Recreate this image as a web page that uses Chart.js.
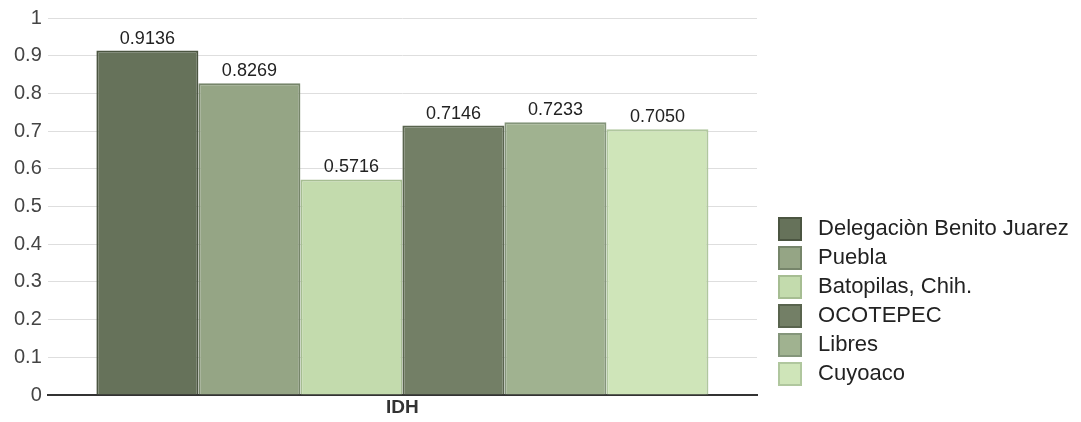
<!DOCTYPE html>
<html>
<head>
<meta charset="utf-8">
<script src="https://cdn.jsdelivr.net/npm/chart.js@4/dist/chart.umd.min.js"></script>
<style>
  html, body { margin: 0; padding: 0; background: #fff; }
  #wrap { width: 1081px; height: 422px; }
</style>
</head>
<body>
<div id="wrap"><canvas id="idhChart"></canvas></div>
<script>
// Data
const categories = ['IDH'];
const places = ['Delegaciòn Benito Juarez', 'Puebla', 'Batopilas, Chih.', 'OCOTEPEC', 'Libres', 'Cuyoaco'];
const idhValues = [0.9136, 0.8269, 0.5716, 0.7146, 0.7233, 0.7050];
const yTicks = [0, 0.1, 0.2, 0.3, 0.4, 0.5, 0.6, 0.7, 0.8, 0.9, 1];

const fills = ['#66725a', '#95a585', '#c3dbad', '#737f66', '#a0b290', '#cfe5b9'];
const borders = ['#4b5541', '#76856a', '#a6bd92', '#59644e', '#84957a', '#b0c79e'];

Chart.defaults.font.family = '"Liberation Sans", Arial, sans-serif';
Chart.defaults.font.size = 20;
Chart.defaults.color = '#333';

// value labels above bars
const valueLabels = {
    id: 'valueLabels',
    afterDatasetsDraw(chart) {
        const ctx = chart.ctx;
        ctx.save();
        ctx.font = '18px "Liberation Sans", Arial, sans-serif';
        ctx.fillStyle = '#222';
        ctx.textAlign = 'center';
        ctx.textBaseline = 'bottom';
        chart.data.datasets.forEach((ds, i) => {
            const bar = chart.getDatasetMeta(i).data[0];
            ctx.fillText(ds.data[0].toFixed(4), bar.x, bar.y - 3);
        });
        ctx.restore();
    }
};

// legend: wider than the layout allows by default, lifted and nudged right
const LEGEND_W = 324;
const legendShift = {
    id: 'legendShift',
    beforeLayout(chart) {
        const lg = chart.legend;
        if (lg && !lg._wideFit) {
            const fit = lg.fit.bind(lg);
            lg.fit = function () { fit(); this.width = LEGEND_W; };
            lg._wideFit = true;
        }
    },
    afterLayout(chart) {
        const lg = chart.legend;
        lg.bottom -= 28;
        lg.left += 15;
        lg.right = chart.width;
    }
};

new Chart(document.getElementById('idhChart').getContext('2d'), {
    type: 'bar',
    data: {
        labels: categories,
        datasets: places.map((p, i) => ({
            label: p,
            data: [idhValues[i]],
            backgroundColor: fills[i],
            borderColor: borders[i],
            borderWidth: 2,
            borderSkipped: 'bottom',
            categoryPercentage: 0.863,
            barPercentage: 1
        }))
    },
    options: {
        responsive: true,
        maintainAspectRatio: false,
        animation: false,
        layout: { padding: { top: 8, left: 8, right: 0, bottom: 2 } },
        scales: {
            x: {
                grid: { display: false, drawTicks: false },
                border: { display: true, color: '#333', width: 2 },
                ticks: { font: { weight: 'bold', size: 19, lineHeight: 1 }, color: '#333', padding: 3 }
            },
            y: {
                min: 0,
                max: 1,
                afterBuildTicks(axis) { axis.ticks = yTicks.map(v => ({ value: v })); },
                grid: { color: '#dedede', lineWidth: 1, drawTicks: false },
                border: { display: false },
                ticks: {
                    color: '#444',
                    padding: 6,
                    callback: v => String(Math.round(v * 10) / 10)
                }
            }
        },
        plugins: {
            legend: {
                position: 'right',
                align: 'end',
                labels: {
                    boxWidth: 22,
                    boxHeight: 22,
                    padding: 7,
                    color: '#222',
                    font: { size: 22 },
                    generateLabels(chart) {
                        return Chart.defaults.plugins.legend.labels.generateLabels(chart)
                            .map(item => ({ ...item, text: ' ' + item.text }));
                    }
                }
            },
            tooltip: { enabled: false }
        }
    },
    plugins: [valueLabels, legendShift]
});
</script>
</body>
</html>
